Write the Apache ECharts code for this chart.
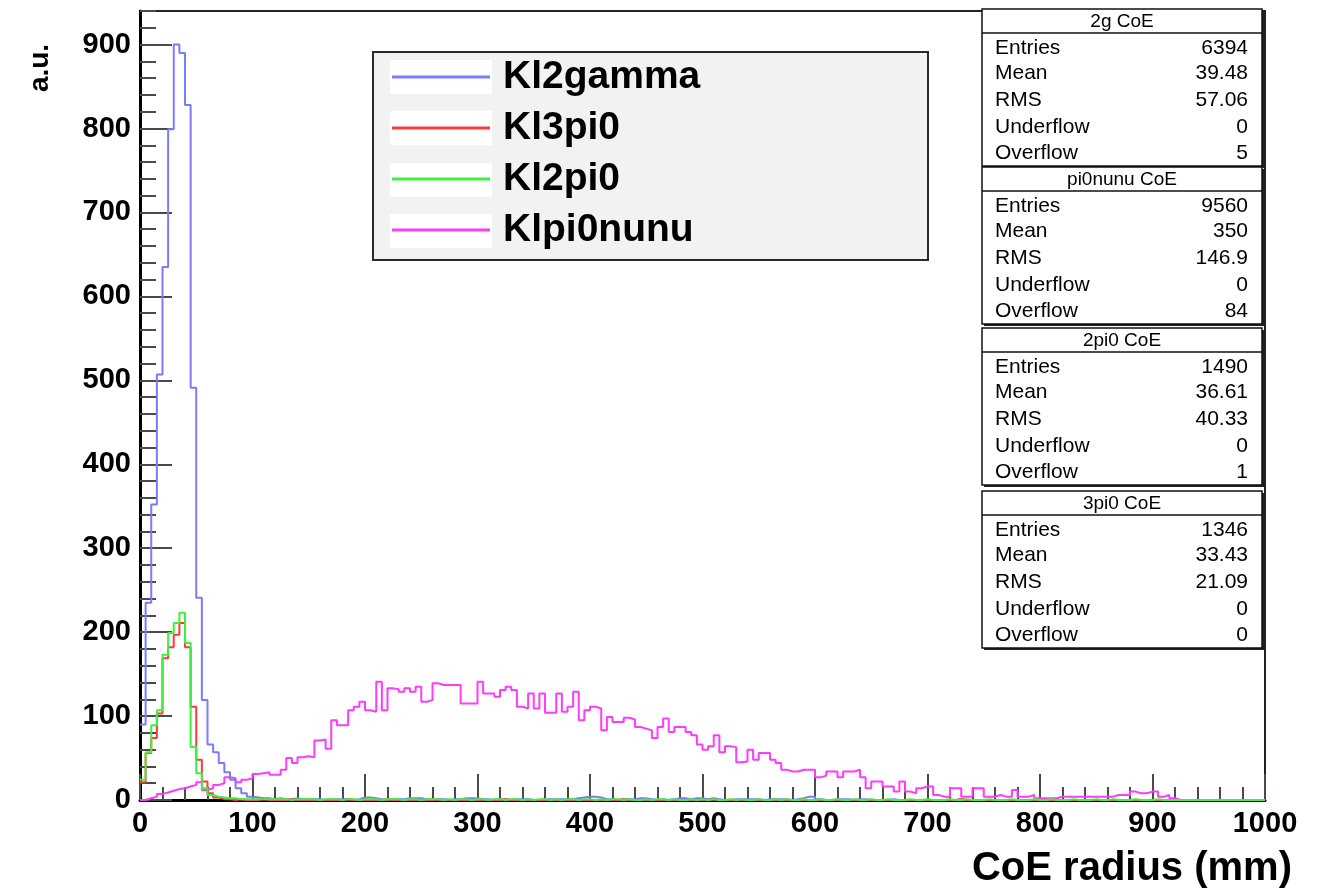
<!DOCTYPE html>
<html>
<head>
<meta charset="utf-8">
<script src="https://cdn.jsdelivr.net/npm/echarts@6/dist/echarts.min.js"></script>
<style>
  html, body { margin: 0; padding: 0; background: #ffffff; }
  #chart { width: 1323px; height: 892px; }
</style>
</head>
<body>
<div id="chart"></div>
<script>
// CoE radius histograms, 200 bins of 5 mm from 0 to 1000 mm (counts per bin)
const binWidth = 5;

const kl2gamma = [
  90, 235, 352, 507, 635, 799, 900, 890, 828, 491,
  241, 119, 66, 57, 44, 33, 24, 14, 8, 4,
  3, 2, 2, 1, 2, 1, 1, 2, 1, 1,
  1, 1, 0, 1, 1, 1, 1, 0, 1, 3,
  3, 2, 1, 0, 1, 1, 1, 2, 2, 2,
  1, 0, 1, 1, 0, 1, 1, 2, 2, 2,
  1, 1, 0, 1, 1, 0, 1, 1, 1, 0,
  0, 1, 1, 1, 1, 1, 1, 2, 3, 4,
  4, 3, 1, 1, 0, 1, 1, 1, 2, 2,
  1, 0, 1, 0, 1, 2, 2, 1, 2, 2,
  1, 2, 1, 0, 0, 1, 1, 1, 1, 1,
  0, 1, 1, 1, 1, 0, 1, 2, 4, 4,
  1, 0, 0, 1, 1, 1, 0, 1, 1, 0,
  0, 0, 0, 1, 0, 0, 0, 0, 0, 0,
  0, 0, 0, 0, 0, 1, 0, 0, 0, 0,
  0, 0, 0, 0, 0, 0, 0, 0, 0, 0,
  0, 0, 0, 0, 0, 0, 0, 0, 0, 0,
  0, 0, 0, 0, 0, 0, 0, 0, 0, 0,
  0, 0, 0, 0, 0, 0, 0, 0, 0, 0,
  0, 0, 0, 0, 0, 0, 0, 0, 0, 0
];

const kl3pi0 = [
  21, 56, 74, 103, 169, 182, 197, 211, 182, 111,
  48, 22, 8, 3, 1, 1, 0, 1, 0, 0,
  0, 1, 0, 0, 0, 0, 1, 0, 0, 0,
  0, 0, 0, 0, 0, 0, 1, 0, 0, 0,
  0, 0, 0, 1, 0, 0, 0, 0, 0, 0,
  0, 1, 0, 0, 0, 0, 0, 0, 0, 0,
  0, 0, 0, 0, 1, 0, 0, 0, 0, 0,
  0, 0, 0, 0, 0, 0, 0, 0, 0, 0,
  0, 0, 0, 0, 0, 1, 0, 0, 0, 0,
  0, 0, 0, 0, 0, 0, 0, 0, 0, 0,
  0, 1, 0, 0, 0, 0, 0, 0, 0, 0,
  0, 0, 0, 0, 0, 0, 0, 0, 0, 0,
  0, 0, 0, 0, 0, 0, 0, 0, 0, 0,
  0, 0, 0, 0, 0, 0, 0, 0, 0, 0,
  0, 0, 0, 0, 0, 1, 0, 0, 0, 0,
  0, 0, 0, 0, 0, 0, 0, 0, 0, 0,
  0, 0, 0, 0, 0, 0, 0, 0, 0, 0,
  0, 0, 0, 0, 0, 0, 0, 0, 0, 0,
  0, 0, 0, 0, 0, 0, 0, 0, 0, 0,
  0, 0, 0, 0, 0, 0, 0, 0, 0, 0
];

const kl2pi0 = [
  24, 57, 89, 107, 173, 199, 211, 223, 187, 63,
  32, 14, 6, 4, 3, 2, 2, 1, 1, 1,
  1, 1, 1, 1, 1, 1, 0, 1, 1, 1,
  1, 0, 1, 1, 1, 0, 1, 1, 0, 1,
  1, 1, 0, 1, 1, 1, 0, 1, 1, 0,
  1, 1, 1, 0, 1, 0, 1, 1, 0, 1,
  1, 0, 1, 1, 0, 1, 1, 0, 1, 0,
  1, 1, 0, 1, 0, 1, 1, 0, 1, 1,
  0, 1, 0, 1, 1, 0, 1, 0, 0, 1,
  0, 1, 1, 0, 1, 0, 0, 1, 0, 1,
  0, 1, 0, 0, 1, 0, 1, 0, 0, 1,
  0, 0, 1, 0, 1, 0, 0, 1, 0, 0,
  1, 0, 0, 1, 0, 0, 1, 0, 0, 1,
  0, 0, 1, 0, 0, 0, 1, 0, 0, 1,
  0, 0, 0, 1, 0, 0, 1, 0, 0, 0,
  1, 0, 0, 0, 1, 0, 0, 0, 1, 0,
  0, 1, 0, 0, 0, 1, 0, 0, 0, 1,
  0, 0, 1, 0, 0, 0, 1, 0, 0, 0,
  1, 0, 0, 0, 0, 0, 0, 0, 0, 0,
  0, 0, 0, 0, 0, 0, 0, 0, 0, 0
];

const klpi0nunu = [
  0, 2, 4, 7, 9, 11, 13, 14, 16, 18,
  21, 12, 14, 18, 20, 27, 26, 21, 24, 26,
  31, 32, 33, 30, 30, 36, 50, 44, 51, 52,
  51, 71, 72, 61, 95, 89, 89, 107, 111, 117,
  107, 105, 141, 107, 133, 132, 129, 133, 129, 135,
  117, 119, 139, 137, 137, 137, 137, 115, 115, 115,
  141, 127, 127, 123, 131, 135, 131, 111, 109, 127,
  109, 127, 104, 104, 127, 105, 111, 129, 95, 107,
  111, 109, 83, 99, 93, 93, 98, 96, 87, 85,
  83, 74, 87, 97, 81, 87, 87, 81, 77, 66,
  60, 64, 77, 57, 64, 63, 45, 46, 60, 48,
  56, 56, 48, 44, 36, 34, 34, 36, 36, 36,
  27, 29, 34, 34, 27, 34, 34, 36, 27, 14,
  22, 22, 16, 16, 10, 22, 10, 8, 14, 16,
  16, 6, 4, 4, 14, 14, 4, 4, 14, 14,
  4, 4, 6, 4, 4, 12, 4, 4, 6, 2,
  2, 2, 2, 4, 4, 4, 4, 4, 4, 4,
  4, 4, 4, 6, 6, 6, 10, 8, 8, 10,
  10, 4, 6, 2, 0, 0, 0, 0, 0, 0,
  0, 0, 0, 0, 0, 0, 0, 0, 0, 0
];

const seriesNames = ['Kl2gamma', 'Kl3pi0', 'Kl2pi0', 'Klpi0nunu'];

// statistics boxes, one per sample
const statTitles = ['2g CoE', 'pi0nunu CoE', '2pi0 CoE', '3pi0 CoE'];
const statLabels = ['Entries', 'Mean', 'RMS', 'Underflow', 'Overflow'];
const statValues = [
  ['6394', '39.48', '57.06', '0', '5'],
  ['9560', '350', '146.9', '0', '84'],
  ['1490', '36.61', '40.33', '0', '1'],
  ['1346', '33.43', '21.09', '0', '0']
];

const xTitle = 'CoE radius (mm)';
const yTitle = 'a.u.';

// ---------------------------------------------------------------------------
const FONT = '"Liberation Sans", Arial, Helvetica, sans-serif';
const colors = {
  Kl2gamma: '#7b7bff',
  Kl3pi0: '#ff3b3b',
  Kl2pi0: '#3ff03f',
  Klpi0nunu: '#ff3cff'
};

// step-line points at each bin's lower edge, closed at the upper edge of the last bin
function histPoints(counts) {
  const pts = counts.map((c, i) => [i * binWidth, c]);
  pts.push([counts.length * binWidth, counts[counts.length - 1]]);
  return pts;
}

function histSeries(name, counts) {
  return {
    name: name,
    type: 'line',
    step: 'end',
    data: histPoints(counts),
    showSymbol: false,
    symbol: 'none',
    sampling: null,
    animation: false,
    color: colors[name],
    lineStyle: { color: colors[name], width: 2 },
    xAxisIndex: 0,
    yAxisIndex: 0
  };
}

// legend frame and white sample cells
const legendRows = [77, 128, 180, 231];
const legendGraphics = [{
  type: 'rect', z: 1,
  shape: { x: 373, y: 52, width: 555, height: 208 },
  style: { fill: '#f2f2f2', stroke: '#2a2a2a', lineWidth: 2 }
}];
legendRows.forEach(y => legendGraphics.push({
  type: 'rect', z: 2,
  shape: { x: 390, y: y - 17, width: 102, height: 34 },
  style: { fill: '#ffffff' }
}));

// statistics boxes
const boxTops = [9, 167, 328, 491];
const boxLeft = 982, boxWidth = 280, boxHeight = 157, titleHeight = 24;
const rowOffsets = [39, 64, 91, 118, 144];
const statGraphics = [];
statTitles.forEach((title, b) => {
  const top = boxTops[b];
  statGraphics.push({
    type: 'rect', z: 20,
    shape: { x: boxLeft + 2, y: top + 2, width: boxWidth, height: boxHeight },
    style: { fill: '#222' }
  });
  statGraphics.push({
    type: 'rect', z: 21,
    shape: { x: boxLeft, y: top, width: boxWidth, height: boxHeight },
    style: { fill: '#ffffff', stroke: '#111', lineWidth: 1.5 }
  });
  statGraphics.push({
    type: 'line', z: 22,
    shape: { x1: boxLeft, y1: top + titleHeight, x2: boxLeft + boxWidth, y2: top + titleHeight },
    style: { stroke: '#111', lineWidth: 1.5 }
  });
  statGraphics.push({
    type: 'text', z: 22,
    x: boxLeft + boxWidth / 2, y: top + titleHeight / 2 + 1,
    style: { text: title, fill: '#000', font: '19px ' + FONT, textAlign: 'center', textVerticalAlign: 'middle' }
  });
  statLabels.forEach((lab, r) => {
    statGraphics.push({
      type: 'text', z: 22,
      x: boxLeft + 13, y: top + rowOffsets[r],
      style: { text: lab, fill: '#000', font: '21px ' + FONT, textAlign: 'left', textVerticalAlign: 'middle' }
    });
    statGraphics.push({
      type: 'text', z: 22,
      x: boxLeft + 266, y: top + rowOffsets[r],
      style: { text: statValues[b][r], fill: '#000', font: '21px ' + FONT, textAlign: 'right', textVerticalAlign: 'middle' }
    });
  });
});

const titleGraphics = [
  {
    type: 'text', z: 5,
    x: 1292, y: 869,
    style: { text: xTitle, fill: '#000', font: 'bold 40px ' + FONT, textAlign: 'right', textVerticalAlign: 'middle' }
  },
  {
    type: 'text', z: 5,
    x: 40, y: 68, rotation: Math.PI / 2,
    style: { text: yTitle, fill: '#000', font: 'bold 28px ' + FONT, textAlign: 'center', textVerticalAlign: 'middle' }
  }
];

const labelStyle = { color: '#000', fontSize: 29, fontWeight: 'bold', fontFamily: FONT };
const plainNumber = v => String(v);
const tickColor = '#4a4a4a';

const chart = echarts.init(document.getElementById('chart'), null, { renderer: 'canvas' });
chart.setOption({
  animation: false,
  backgroundColor: '#ffffff',
  grid: {
    left: 140, right: 58, top: 11, bottom: 92,
    show: true, borderColor: '#222', borderWidth: 2, backgroundColor: 'transparent'
  },
  xAxis: {
    type: 'value', min: 0, max: 1000, interval: 100,
    axisLine: { show: true, onZero: false, lineStyle: { color: '#000', width: 3 } },
    axisTick: { show: true, inside: true, length: 26, lineStyle: { color: tickColor, width: 2 } },
    minorTick: { show: true, splitNumber: 5, length: 13, lineStyle: { color: tickColor, width: 2 } },
    axisLabel: Object.assign({ margin: 9, formatter: plainNumber }, labelStyle),
    splitLine: { show: false },
    minorSplitLine: { show: false }
  },
  yAxis: [
    {
      type: 'value', min: 0, max: 940, interval: 20, position: 'left',
      axisLine: { show: true, onZero: false, lineStyle: { color: '#000', width: 3 } },
      axisTick: { show: true, inside: true, length: 16, lineStyle: { color: tickColor, width: 2 } },
      axisLabel: { show: false },
      splitLine: { show: false }
    },
    {
      type: 'value', min: 0, max: 940, interval: 100, position: 'left', offset: 0,
      axisLine: { show: false },
      axisTick: { show: true, inside: true, length: 32, lineStyle: { color: tickColor, width: 2 } },
      axisLabel: Object.assign({ margin: 9, showMaxLabel: false, formatter: plainNumber }, labelStyle),
      splitLine: { show: false }
    }
  ],
  legend: {
    data: seriesNames,
    orient: 'vertical',
    left: 392, top: 57,
    padding: 0,
    itemWidth: 98, itemHeight: 3, itemGap: 11,
    icon: 'rect',
    selectedMode: false,
    z: 6,
    textStyle: { color: '#000', fontSize: 39, fontWeight: 'bold', fontFamily: FONT, lineHeight: 40, padding: [0, 0, 0, 8] }
  },
  graphic: { elements: legendGraphics.concat(statGraphics, titleGraphics) },
  series: [
    histSeries('Klpi0nunu', klpi0nunu),
    histSeries('Kl2gamma', kl2gamma),
    histSeries('Kl3pi0', kl3pi0),
    histSeries('Kl2pi0', kl2pi0)
  ]
});
</script>
</body>
</html>
